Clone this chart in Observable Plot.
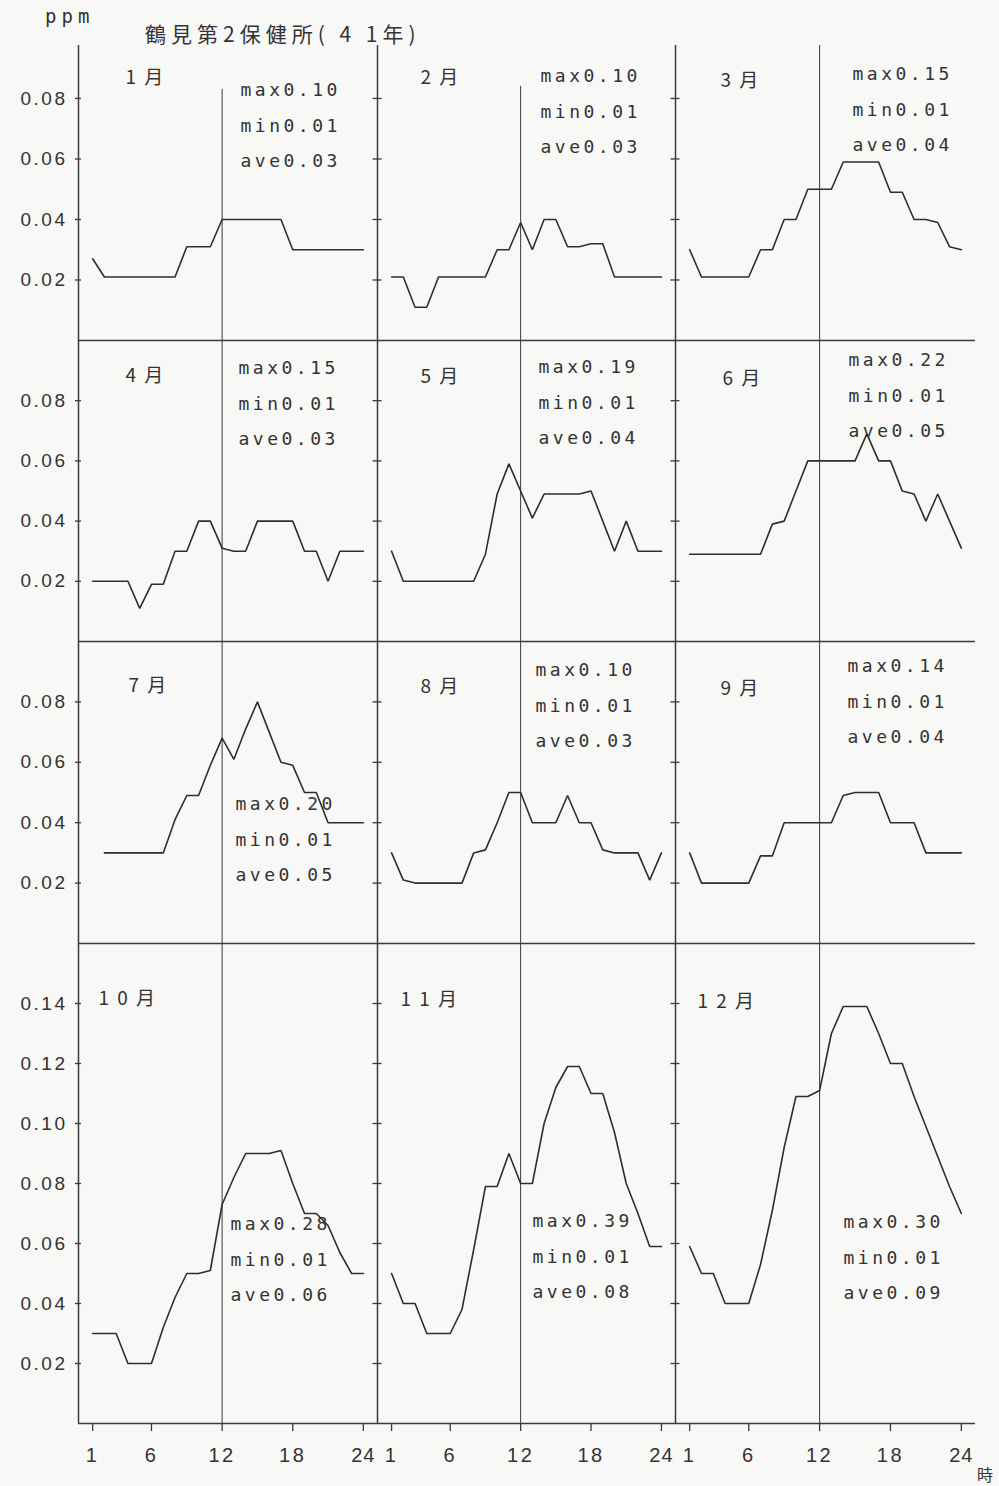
<!DOCTYPE html>
<html>
<head>
<meta charset="utf-8">
<script src="https://cdn.jsdelivr.net/npm/d3@7"></script>
<script src="https://cdn.jsdelivr.net/npm/@observablehq/plot@0.6"></script>
<style>
  body { margin: 0; background: #f8f8f6; }
  #chart { position: relative; width: 999px; height: 1486px; background: #f8f8f6; color: #333; overflow: hidden; }
  #chart svg { position: absolute; overflow: visible; background: transparent; max-width: none; }
  #chart svg text { fill: #333; }
  .lbl { position: absolute; white-space: nowrap; line-height: 1; }
</style>
</head>
<body>
<div id="chart">
  <div class="lbl" style="left:45px;top:7px;font-family:'DejaVu Sans Mono',monospace;font-size:19px;letter-spacing:5px;">ppm</div>
  <div class="lbl" style="left:145px;top:23px;font-family:'Noto Sans CJK JP',sans-serif;font-size:21px;letter-spacing:5px;">鶴見第2保健所( 4 1年)</div>
  <div class="lbl" style="left:977px;top:1466px;font-family:'Noto Sans CJK JP',sans-serif;font-size:16px;">時</div>
</div>
<script>
// ---- data ----
const hours = [1,2,3,4,5,6,7,8,9,10,11,12,13,14,15,16,17,18,19,20,21,22,23,24];
const monthLabels = ["1 月","2 月","3 月","4 月","5 月","6 月","7 月","8 月","9 月","1 0 月","1 1 月","1 2 月"];

const jan = [0.027,0.021,0.021,0.021,0.021,0.021,0.021,0.021,0.031,0.031,0.031,0.040,0.040,0.040,0.040,0.040,0.040,0.030,0.030,0.030,0.030,0.030,0.030,0.030];
const feb = [0.021,0.021,0.011,0.011,0.021,0.021,0.021,0.021,0.021,0.030,0.030,0.039,0.030,0.040,0.040,0.031,0.031,0.032,0.032,0.021,0.021,0.021,0.021,0.021];
const mar = [0.030,0.021,0.021,0.021,0.021,0.021,0.030,0.030,0.040,0.040,0.050,0.050,0.050,0.059,0.059,0.059,0.059,0.049,0.049,0.040,0.040,0.039,0.031,0.030];
const apr = [0.020,0.020,0.020,0.020,0.011,0.019,0.019,0.030,0.030,0.040,0.040,0.031,0.030,0.030,0.040,0.040,0.040,0.040,0.030,0.030,0.020,0.030,0.030,0.030];
const may = [0.030,0.020,0.020,0.020,0.020,0.020,0.020,0.020,0.029,0.049,0.059,0.050,0.041,0.049,0.049,0.049,0.049,0.050,0.040,0.030,0.040,0.030,0.030,0.030];
const jun = [0.029,0.029,0.029,0.029,0.029,0.029,0.029,0.039,0.040,0.050,0.060,0.060,0.060,0.060,0.060,0.069,0.060,0.060,0.050,0.049,0.040,0.049,0.040,0.031];
const jul = [null,0.030,0.030,0.030,0.030,0.030,0.030,0.041,0.049,0.049,0.059,0.068,0.061,0.071,0.080,0.070,0.060,0.059,0.050,0.050,0.040,0.040,0.040,0.040];
const aug = [0.030,0.021,0.020,0.020,0.020,0.020,0.020,0.030,0.031,0.040,0.050,0.050,0.040,0.040,0.040,0.049,0.040,0.040,0.031,0.030,0.030,0.030,0.021,0.030];
const sep = [0.030,0.020,0.020,0.020,0.020,0.020,0.029,0.029,0.040,0.040,0.040,0.040,0.040,0.049,0.050,0.050,0.050,0.040,0.040,0.040,0.030,0.030,0.030,0.030];
const oct = [0.030,0.030,0.030,0.020,0.020,0.020,0.032,0.042,0.050,0.050,0.051,0.073,0.082,0.090,0.090,0.090,0.091,0.080,0.070,0.070,0.066,0.057,0.050,0.050];
const nov = [0.050,0.040,0.040,0.030,0.030,0.030,0.038,0.058,0.079,0.079,0.090,0.080,0.080,0.100,0.112,0.119,0.119,0.110,0.110,0.097,0.080,0.070,0.059,0.059];
const dec = [0.059,0.050,0.050,0.040,0.040,0.040,0.053,0.071,0.092,0.109,0.109,0.111,0.130,0.139,0.139,0.139,0.130,0.120,0.120,0.109,0.099,0.089,0.079,0.070];
const series = [jan, feb, mar, apr, may, jun, jul, aug, sep, oct, nov, dec];

const maxVals = ["0.10","0.10","0.15","0.15","0.19","0.22","0.20","0.10","0.14","0.28","0.39","0.30"];
const minVals = ["0.01","0.01","0.01","0.01","0.01","0.01","0.01","0.01","0.01","0.01","0.01","0.01"];
const aveVals = ["0.03","0.03","0.04","0.03","0.04","0.05","0.05","0.03","0.04","0.06","0.08","0.09"];

const yTicksLow = [0.02, 0.04, 0.06, 0.08];
const yTicksHigh = [0.02, 0.04, 0.06, 0.08, 0.10, 0.12, 0.14];
const xTicks = [1, 6, 12, 18, 24];

// ---- layout (pixels / scale extents) ----
const colLeft = [78, 377, 675];
const colWidth = [299, 298, 300];
const rowTop = [45, 340, 641, 943];
const rowHeight = [295, 301, 302, 480];
const yMax = [0.0975, 0.1, 0.1, 0.16];
const xDomain = [-0.2, 25.2];
const noonTop = [0.083, 0.084, null, null, null, null, null, null, null, null, null, null];
const monthPos = [[47,32],[43,32],[45,35],[47,35],[43,36],[47,38],[50,44],[43,45],[45,47],[20,55],[23,56],[22,58]];
const statPos = [[162,26],[163,12],[177,10],[160,9],[161,8],[173,1],[157,144],[158,10],[172,6],[152,262],[155,259],[168,260]];

const ink = "#2e2e2e";
const frameInk = "#3a3a3a";
const chart = document.getElementById("chart");

series.forEach((vals, i) => {
  const row = Math.floor(i / 3), col = i % 3;
  const ml = col === 0 ? 78 : 12;
  const mr = 0;
  const mb = row === 3 ? 60 : 0;
  const data = hours.map((h, k) => ({hour: h, value: vals[k]}));
  const ticks = row === 3 ? yTicksHigh : yTicksLow;
  const marks = [
    Plot.ruleX([12], {y1: 0, y2: noonTop[i] ?? yMax[row], stroke: frameInk, strokeWidth: 1}),
    Plot.ruleX([xDomain[0]], {y1: 0, y2: yMax[row], stroke: frameInk, strokeWidth: 1.5}),
    Plot.ruleY([0], {stroke: frameInk, strokeWidth: 1.5}),
    Plot.axisY(ticks, {
      anchor: "left",
      label: null,
      tickSize: col === 0 ? 6 : 9,
      dx: col === 0 ? 3 : 4.5,
      tickPadding: 8,
      tickFormat: col === 0 ? d3.format(".2f") : () => "",
      fontSize: 19,
      fontFamily: "Liberation Sans, Arial, sans-serif",
      color: frameInk,
      strokeWidth: 1.3
    }),
    Plot.line(data, {x: "hour", y: "value", stroke: ink, strokeWidth: 1.6, strokeLinejoin: "miter"}),
    Plot.text([monthLabels[i]], {
      frameAnchor: "top-left", dx: monthPos[i][0], dy: monthPos[i][1],
      textAnchor: "start", lineAnchor: "middle",
      fontSize: 19, fontFamily: "Noto Sans CJK JP, sans-serif"
    }),
    Plot.text([`max${maxVals[i]}\nmin${minVals[i]}\nave${aveVals[i]}`], {
      frameAnchor: "top-left", dx: statPos[i][0], dy: statPos[i][1],
      textAnchor: "start", lineAnchor: "top", lineHeight: 1.95,
      fontSize: 18, fontFamily: "DejaVu Sans Mono, monospace"
    })
  ];
  if (row === 3) {
    marks.push(Plot.axisX(xTicks, {
      anchor: "bottom", label: null, tickSize: 8, tickPadding: 16,
      tickFormat: d => String(d),
      fontSize: 20, fontFamily: "Liberation Sans, Arial, sans-serif",
      color: frameInk, strokeWidth: 1.3
    }));
  }
  const svg = Plot.plot({
    width: ml + colWidth[col] + mr,
    height: rowHeight[row] + mb,
    marginLeft: ml, marginRight: mr, marginTop: 0, marginBottom: mb,
    x: {domain: xDomain, ...(row === 3 ? {} : {axis: null})},
    y: {domain: [0, yMax[row]]},
    style: {overflow: "visible", background: "transparent"},
    marks
  });
  // letter spacing to mimic the typewritten lettering
  svg.querySelectorAll("text").forEach(t => {
    const s = t.textContent;
    if (s.startsWith("max")) t.style.letterSpacing = "3.5px";
    else if (s.includes("月")) t.style.letterSpacing = "2px";
    else if (s === "24") t.style.letterSpacing = "1px";
    else t.style.letterSpacing = "2.5px";
  });
  svg.style.left = (colLeft[col] - ml) + "px";
  svg.style.top = rowTop[row] + "px";
  chart.appendChild(svg);
});
</script>
</body>
</html>
